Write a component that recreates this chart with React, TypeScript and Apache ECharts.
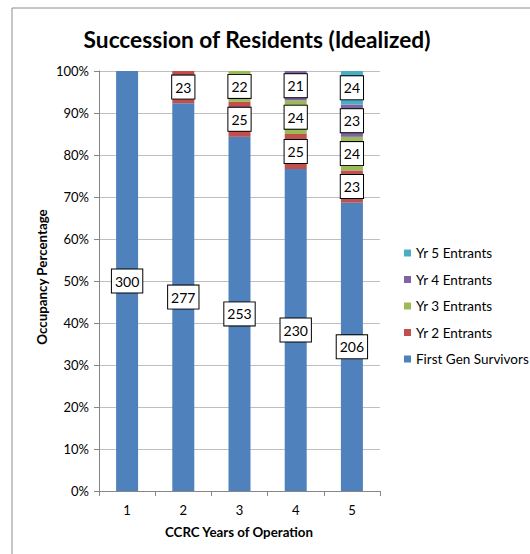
import React, { useEffect, useRef } from "react";
import * as echarts from "echarts";

const categories = ["1", "2", "3", "4", "5"];
const firstGen = [300, 277, 253, 230, 206];
const yr2 = [null, 23, 25, 25, 23];
const yr3 = [null, null, 22, 24, 24];
const yr4 = [null, null, null, 21, 23];
const yr5 = [null, null, null, null, 24];
const yTicks = [0, 10, 20, 30, 40, 50, 60, 70, 80, 90, 100];

const seriesDefs = [
  { name: "First Gen Survivors", data: firstGen, color: "#4F81BD" },
  { name: "Yr 2 Entrants", data: yr2, color: "#C0504D" },
  { name: "Yr 3 Entrants", data: yr3, color: "#9BBB59" },
  { name: "Yr 4 Entrants", data: yr4, color: "#8064A2" },
  { name: "Yr 5 Entrants", data: yr5, color: "#4BACC6" },
];

const FONT = "Lato, 'Open Sans', sans-serif";

export default function App() {
  const ref = useRef<HTMLDivElement>(null);
  useEffect(() => {
    if (!ref.current) return;
    const chart = echarts.init(ref.current, null, { renderer: "svg" });
    const total = 300;
    chart.setOption({
      animation: false,
      textStyle: { fontFamily: FONT },
      graphic: [
        {
          type: "rect",
          shape: { x: 12, y: 8, width: 540, height: 560 },
          style: { fill: "none", stroke: "#8c8c8c", lineWidth: 1 },
          silent: true,
        },
        {
          type: "text",
          x: 257,
          y: 39,
          style: {
            text: "Succession of Residents (Idealized)",
            font: `bold 22.7px ${FONT}`,
            fill: "#000",
            align: "center",
            verticalAlign: "middle",
          },
        },
        {
          type: "text",
          x: 42,
          y: 277,
          rotation: Math.PI / 2,
          style: {
            text: "Occupancy Percentage",
            font: `bold 13.3px ${FONT}`,
            fill: "#000",
            align: "center",
            verticalAlign: "middle",
          },
        },
        {
          type: "text",
          x: 239,
          y: 532,
          style: {
            text: "CCRC Years of Operation",
            font: `bold 13.3px ${FONT}`,
            fill: "#000",
            align: "center",
            verticalAlign: "middle",
          },
        },
      ],
      legend: {
        orient: "vertical",
        left: 399,
        top: 241,
        itemWidth: 7,
        itemHeight: 7,
        itemGap: 12.5,
        itemStyle: { borderWidth: 0 },
        icon: "rect",
        data: ["Yr 5 Entrants", "Yr 4 Entrants", "Yr 3 Entrants", "Yr 2 Entrants", "First Gen Survivors"],
        textStyle: { fontSize: 13.5, color: "#000", fontFamily: FONT, lineHeight: 14 },
      },
      grid: { left: 99, right: 150, top: 71, bottom: 63, containLabel: false },
      xAxis: {
        type: "category",
        data: categories,
        axisLine: { lineStyle: { color: "#868686" } },
        axisTick: { show: true, length: 5, alignWithLabel: false, lineStyle: { color: "#868686" } },
        axisLabel: { fontSize: 13, color: "#000", margin: 12 },
      },
      yAxis: {
        type: "value",
        min: 0,
        max: total,
        interval: total / (yTicks.length - 1),
        axisLine: { show: true, lineStyle: { color: "#868686" } },
        axisTick: { show: true, length: 5, lineStyle: { color: "#868686" } },
        splitLine: { lineStyle: { color: "#bfbfbf" } },
        axisLabel: {
          fontSize: 13,
          color: "#000",
          margin: 10,
          formatter: (v: number) => `${Math.round((v / total) * 100)}%`,
        },
      },
      series: seriesDefs.map((s) => ({
        name: s.name,
        type: "bar",
        stack: "total",
        barWidth: 22,
        data: s.data,
        itemStyle: { color: s.color },
        label: {
          show: true,
          position: "inside",
          color: "#000",
          fontSize: 14,
          fontFamily: FONT,
          backgroundColor: "#fff",
          borderColor: "#000",
          borderWidth: 1,
          padding: [5, 3, 4, 3],
          formatter: (p: any) => (p.value == null ? "" : String(p.value)),
        },
      })),
    });
    return () => chart.dispose();
  }, []);
  return (
    <div
      ref={ref}
      style={{ position: "fixed", left: 0, top: 0, width: 530, height: 554, background: "#fff" }}
    />
  );
}
